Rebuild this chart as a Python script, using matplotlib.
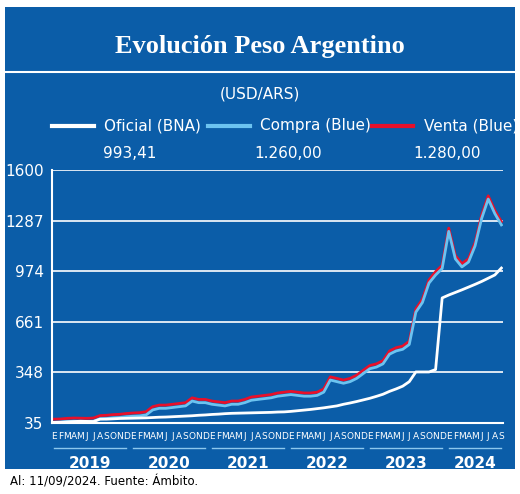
import matplotlib
matplotlib.use("Agg")
import matplotlib.pyplot as plt
import numpy as np

BG = "#0b5da8"

# monthly values, Jan 2019 .. Sep 2024
oficial = [38, 39, 41, 43, 45, 44, 43, 58, 58, 60, 62, 63,
           64, 65, 66, 68, 70, 71, 73, 75, 77, 79, 82, 84,
           87, 89, 92, 94, 95, 96, 97, 98, 99, 100, 102, 103,
           106, 110, 114, 118, 123, 128, 134, 140, 150, 158, 167, 177,
           187, 199, 212, 230, 245, 262, 290, 350, 350, 350, 365, 808,
           826, 842, 858, 875, 892, 910, 930, 950, 993]
compra = [38, 39, 43, 45, 44, 43, 45, 60, 62, 66, 68, 73,
          76, 78, 84, 115, 125, 125, 130, 135, 140, 170, 160, 160,
          150, 145, 140, 150, 150, 160, 175, 180, 185, 190, 200, 205,
          210, 205, 200, 200, 205, 225, 300, 290, 280, 290, 310, 340,
          370, 380, 400, 460, 480, 490, 520, 720, 780, 900, 950, 990,
          1220, 1050, 1000, 1030, 1130, 1300, 1420, 1330, 1260]
venta = [c + 20 for c in compra]

ticks = [35, 348, 661, 974, 1287, 1600]
months = list("EFMAMJJASOND")
years = ["2019", "2020", "2021", "2022", "2023", "2024"]

fig = plt.figure(figsize=(5.2, 4.94), dpi=100)
fig.patch.set_facecolor("white")
fig.patches.append(plt.Rectangle((0.01, 0.05), 0.98, 0.935, transform=fig.transFigure,
                                 facecolor=BG, edgecolor="none", zorder=-10))
fig.add_artist(plt.Line2D([0.01, 0.99], [0.855, 0.855], transform=fig.transFigure,
                          color="white", lw=1.5))
fig.text(0.5, 0.905, "Evolución Peso Argentino", color="white", ha="center", va="center",
         fontsize=19, fontweight="bold", family="Liberation Serif")
fig.text(0.5, 0.81, "(USD/ARS)", color="white", ha="center", va="center", fontsize=11)

leg = [("Oficial (BNA)", "white", "993,41", 0.1, 0.25),
       ("Compra (Blue)", "#6cc3f0", "1.260,00", 0.4, 0.555),
       ("Venta (Blue)", "#e8102a", "1.280,00", 0.715, 0.86)]
for name, col, val, x0, xc in leg:
    fig.add_artist(plt.Line2D([x0, x0 + 0.08], [0.745, 0.745], transform=fig.transFigure,
                              color=col, lw=3))
    fig.text(x0 + 0.1, 0.745, name, color="white", ha="left", va="center", fontsize=11)
    fig.text(xc, 0.69, val, color="white", ha="center", va="center", fontsize=11)
fig.text(0.02, 0.025, "Al: 11/09/2024. Fuente: Ámbito.", ha="left", va="center", fontsize=8.5)

ax = fig.add_axes([0.1, 0.144, 0.868, 0.512])
ax.set_facecolor(BG)
x = np.arange(len(oficial))
ax.plot(x, venta, color="#e8102a", lw=2)
ax.plot(x, compra, color="#6cc3f0", lw=2)
ax.plot(x, oficial, color="white", lw=2)
for t in ticks[1:]:
    ax.axhline(t, color="white", lw=1.2, zorder=0)
ax.set_xlim(-0.3, len(oficial) - 0.7)
ax.set_ylim(35, 1600)
ax.set_yticks(ticks)
ax.tick_params(axis="y", colors="white", labelsize=11, length=0, pad=6)
ax.set_xticks([])
for s in ["top", "right"]:
    ax.spines[s].set_visible(False)
for s in ["left", "bottom"]:
    ax.spines[s].set_color("white")
    ax.spines[s].set_linewidth(1.5)

tr = ax.get_xaxis_transform()
for i in range(len(oficial)):
    ax.text(i, -0.055, months[i % 12], transform=tr, color="white", ha="center", va="center",
            fontsize=6.5, clip_on=False)
for k, yr in enumerate(years):
    a, b = 12 * k, min(12 * k + 11, len(oficial) - 1)
    ax.plot([a, b], [-0.1, -0.1], transform=tr, color="#8cc8ee", lw=1, clip_on=False)
    ax.text((a + b) / 2, -0.16, yr, transform=tr, color="white", ha="center", va="center",
            fontsize=11, fontweight="bold", clip_on=False)

fig.savefig("out.png", dpi=100)
